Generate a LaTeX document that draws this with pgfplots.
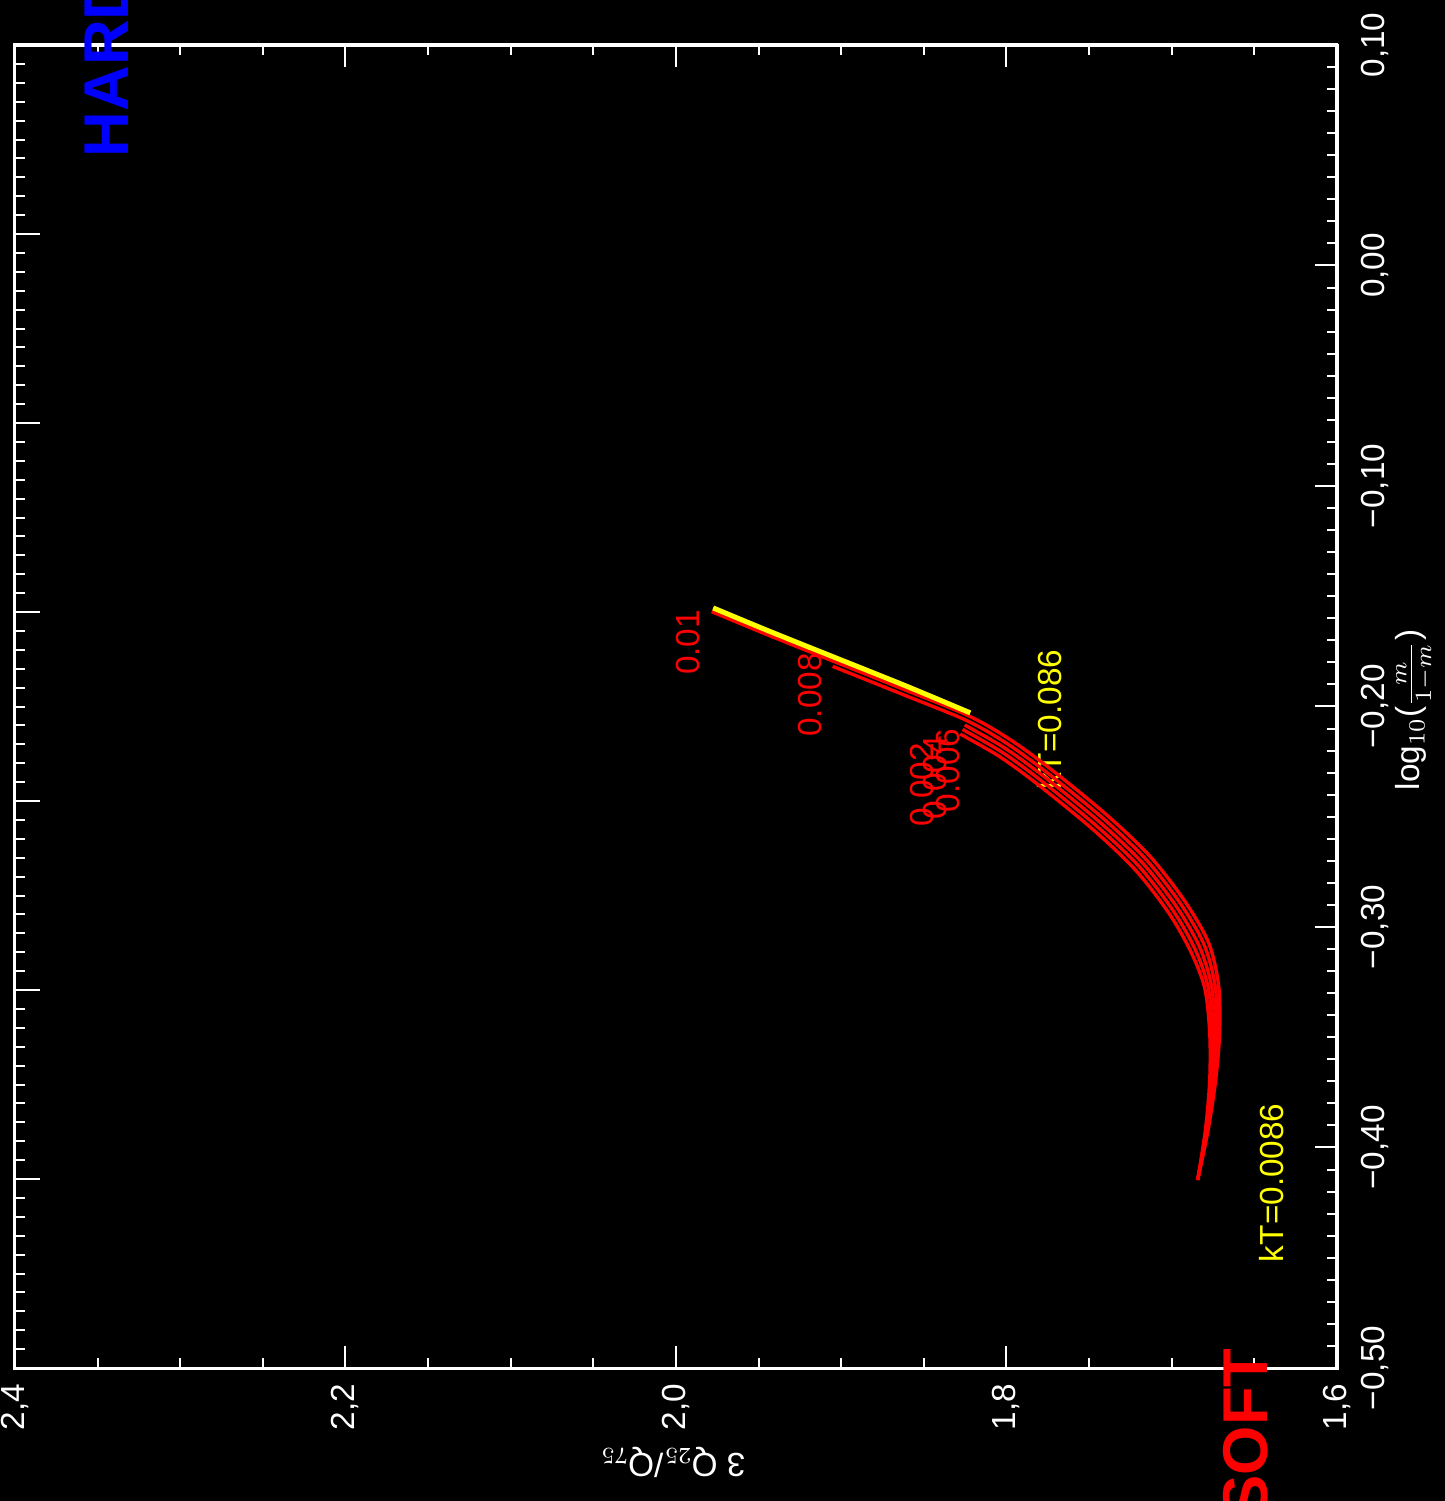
\documentclass[border=0pt]{standalone}
\usepackage{fontspec}
\setmainfont{Liberation Sans}
\usepackage{pgfplots}
\pgfplotsset{compat=1.18}

\definecolor{tkred}{RGB}{255,0,0}
\definecolor{tkyellow}{RGB}{255,255,0}
\definecolor{tkblue}{RGB}{0,0,255}

\pgfplotsset{
  frame/.style={
    at={(0,0)}, anchor=south west, scale only axis,
    width=396.6pt, height=396.9pt,
    tick align=inside,
    axis line style={white, line width=0.9pt},
    tick style={white, line width=0.6pt},
    major tick length=6.5pt, minor tick length=3pt,
  },
  track/.style={tkred, line width=1pt, smooth},
}

\begin{document}
\begin{tikzpicture}
\fill[black] (-4.5pt,-39.9pt) rectangle (429pt,410.4pt);

% scale along the left edge
\begin{axis}[frame,
  xmin=0, xmax=1, ymin=0, ymax=7,
  xtick=\empty, ytick={0,1,2,3,4,5,6,7}, yticklabels={},
  ytick pos=left, minor y tick num=9,
  major tick length=7.5pt,
]
\end{axis}

\begin{axis}[frame,
  x dir=reverse,
  xmin=1.6, xmax=2.4, ymin=-0.5, ymax=0.1,
  xtick={1.6,1.8,2.0,2.2,2.4},
  xticklabels={{1,6},{1,8},{2,0},{2,2},{2,4}},
  minor x tick num=3,
  ytick={-0.5,-0.4,-0.3,-0.2,-0.1,0,0.1},
  yticklabels={{−0,50},{−0,40},{−0,30},{−0,20},{−0,10},{0,00},{0,10}},
  minor y tick num=9,
  xtick pos=both, xticklabel pos=left,
  ytick pos=right,
  xticklabel style={rotate=90, anchor=east, inner sep=0pt, text=white,
    font=\fontsize{10}{12}\selectfont},
  yticklabel style={rotate=90, anchor=north, inner sep=0pt, text=white,
    font=\fontsize{10}{12}\selectfont},
  xticklabel shift=4.5pt,
  yticklabel shift=7pt,
  clip=false,
]

% temperature label partly covered by the tracks
\node[rotate=90, text=tkyellow, font=\fontsize{10}{12}\selectfont, inner sep=0pt]
  at (axis cs:1.774,-0.206) {kT=0.086};

% model tracks
\addplot[track] coordinates {
  (1.9784,-0.1570) (1.9433,-0.1679) (1.9040,-0.1797) (1.8617,-0.1924)
  (1.8227,-0.2043) (1.7978,-0.2150) (1.7732,-0.2284) (1.7396,-0.2490)
  (1.7132,-0.2679) (1.6920,-0.2884) (1.6776,-0.3073) (1.6716,-0.3266)
  (1.6710,-0.3480) (1.6734,-0.3695) (1.6780,-0.3922) (1.6843,-0.4147)};
\addplot[track] coordinates {
  (1.9052,-0.1818) (1.8629,-0.1945) (1.8240,-0.2064) (1.7995,-0.2169)
  (1.7751,-0.2302) (1.7416,-0.2507) (1.7154,-0.2695) (1.6945,-0.2896)
  (1.6803,-0.3082) (1.6737,-0.3269) (1.6725,-0.3481) (1.6743,-0.3694)
  (1.6784,-0.3921) (1.6843,-0.4147)};
\addplot[track] coordinates {
  (1.8253,-0.2084) (1.8011,-0.2188) (1.7769,-0.2320) (1.7436,-0.2524)
  (1.7176,-0.2710) (1.6970,-0.2909) (1.6831,-0.3091) (1.6758,-0.3272)
  (1.6740,-0.3481) (1.6752,-0.3694) (1.6788,-0.3921) (1.6843,-0.4147)};
\addplot[track] coordinates {
  (1.8266,-0.2104) (1.8027,-0.2207) (1.7787,-0.2338) (1.7456,-0.2541)
  (1.7198,-0.2725) (1.6995,-0.2922) (1.6859,-0.3100) (1.6779,-0.3275)
  (1.6755,-0.3481) (1.6761,-0.3694) (1.6792,-0.3921) (1.6843,-0.4147)};
\addplot[track] coordinates {
  (1.8280,-0.2125) (1.8044,-0.2226) (1.7806,-0.2356) (1.7476,-0.2558)
  (1.7220,-0.2741) (1.7020,-0.2934) (1.6886,-0.3109) (1.6800,-0.3278)
  (1.6770,-0.3482) (1.6770,-0.3693) (1.6796,-0.3920) (1.6843,-0.4147)};

% iso-temperature line
\addplot[tkyellow, line width=1.5pt, smooth] coordinates {
  (1.9775,-0.1553) (1.9424,-0.1662) (1.9031,-0.1780) (1.8608,-0.1907)
  (1.8219,-0.2029)};

% track labels
\node[rotate=90, text=tkred, font=\fontsize{10}{12}\selectfont, inner sep=0pt]
  at (axis cs:1.993,-0.171) {0.01};
\node[rotate=90, text=tkred, font=\fontsize{10}{12}\selectfont, inner sep=0pt]
  at (axis cs:1.919,-0.1948) {0.008};
\node[rotate=90, text=tkred, font=\fontsize{10}{12}\selectfont, inner sep=0pt]
  at (axis cs:1.8355,-0.229) {0.006};
\node[rotate=90, text=tkred, font=\fontsize{10}{12}\selectfont, inner sep=0pt]
  at (axis cs:1.843,-0.2324) {0.004};
\node[rotate=90, text=tkred, font=\fontsize{10}{12}\selectfont, inner sep=0pt]
  at (axis cs:1.851,-0.2356) {0.002};

\node[rotate=90, text=tkyellow, font=\fontsize{10}{12}\selectfont, inner sep=0pt]
  at (axis cs:1.6395,-0.416) {kT=0.0086};

% axis titles
\node[rotate=90, text=white, font=\fontsize{10}{12}\selectfont]
  at (axis cs:1.553,-0.2016) {log$_{10}$($\frac{m}{1-m}$)};
\node[rotate=180, text=white, font=\fontsize{10}{12}\selectfont]
  at (axis cs:2.002,-0.5426) {3 Q$_{25}$/Q$_{75}$};

% corner markers
\node[rotate=90, anchor=base west, inner sep=0pt, text=tkblue,
  font=\fontsize{19}{22}\selectfont\bfseries]
  at (axis cs:2.3316,0.0488) {HARD};
\node[rotate=90, anchor=base east, inner sep=0pt, text=tkred,
  font=\fontsize{19}{22}\selectfont\bfseries]
  at (axis cs:1.642,-0.4909) {SOFT};
\end{axis}

\pgfresetboundingbox
\path[use as bounding box] (-4.5pt,-39.9pt) rectangle (429pt,410.4pt);
\end{tikzpicture}
\end{document}
